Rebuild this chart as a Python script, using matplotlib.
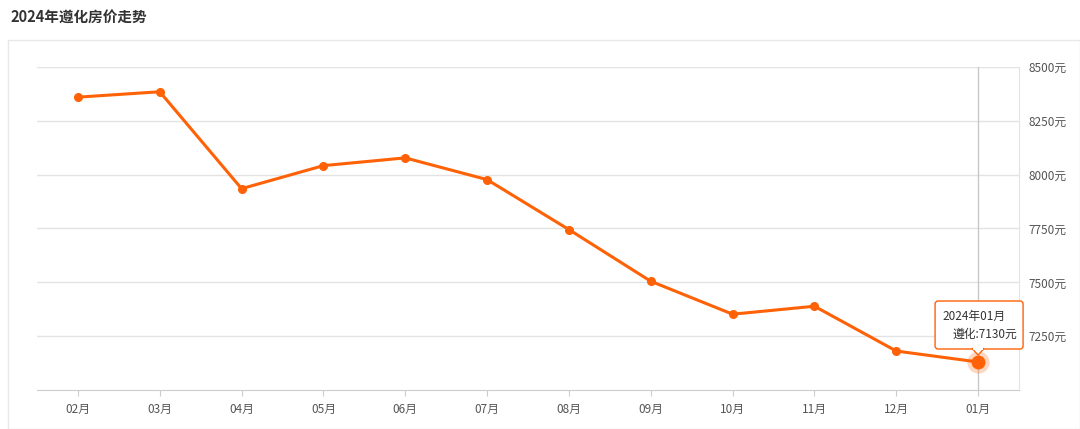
import matplotlib
matplotlib.use("Agg")
import matplotlib.pyplot as plt
from matplotlib.patches import Rectangle, Polygon, FancyBboxPatch
from matplotlib.transforms import IdentityTransform

plt.rcParams['font.family'] = ['Noto Sans CJK SC', 'DejaVu Sans']

# data
months = ['02月', '03月', '04月', '05月', '06月', '07月', '08月', '09月', '10月', '11月', '12月', '01月']
prices = [8360, 8385, 7935, 8042, 8078, 7977, 7745, 7505, 7352, 7389, 7181, 7130]
y_ticks = [7250, 7500, 7750, 8000, 8250, 8500]
title = '2024年遵化房价走势'
tip_title = '2024年01月'
tip_text = '遵化:7130元'

line_color = '#ff6206'
grid_color = '#e3e3e3'
label_color = '#555555'

fig = plt.figure(figsize=(10.8, 4.29), dpi=100)

# outer frame around the chart
fig.patches.append(Rectangle((8 / 1080, 0), 1 - 8 / 1080, 1 - 40 / 429,
                             transform=fig.transFigure, fill=False,
                             edgecolor='#e8e8e8', linewidth=1))
fig.text(10 / 1080, 1 - 18 / 429, title, fontsize=10.5, fontweight='bold',
         color='#333333', va='center', ha='left')

ax = fig.add_axes([37 / 1080, 1 - 390 / 429, (1019 - 37) / 1080, (390 - 67) / 429])
x = list(range(len(months)))
ax.plot(x, prices, color=line_color, linewidth=2.2, marker='o', markersize=5.5,
        zorder=3, clip_on=False)

ax.set_xlim(-0.5, len(months) - 0.5)
ax.set_ylim(7000, 8500)
ax.set_xticks(x)
ax.set_xticklabels(months)
ax.set_yticks(y_ticks)
ax.set_yticklabels([f'{v}元' for v in y_ticks])
ax.yaxis.tick_right()
ax.tick_params(axis='y', length=0, pad=7, labelsize=8.5, labelcolor=label_color)
ax.tick_params(axis='x', length=4, color='#cccccc', pad=5, labelsize=8.5,
               labelcolor=label_color)
ax.grid(axis='y', color=grid_color, linewidth=1)
ax.set_axisbelow(True)
for s in ['top', 'left']:
    ax.spines[s].set_visible(False)
ax.spines['bottom'].set_color('#cccccc')
ax.spines['right'].set_color('#e3e3e3')

# axis pointer for the highlighted point
ax.axvline(x[-1], color='#c8c8c8', linewidth=1, zorder=1)
ax.plot(x[-1], prices[-1], 'o', color=line_color, markersize=16, alpha=0.25,
        markeredgewidth=0, zorder=4)
ax.plot(x[-1], prices[-1], 'o', color=line_color, markersize=9, zorder=5)

# tooltip
px, py = ax.transData.transform((x[-1], prices[-1]))
idt = IdentityTransform()
box = FancyBboxPatch((px - 41, py + 15), 84, 44, boxstyle='round,pad=2,rounding_size=3',
                     transform=idt, facecolor='white', edgecolor=line_color,
                     linewidth=1, zorder=6)
fig.patches.append(box)
tri = Polygon([(px - 6, py + 13.5), (px + 6, py + 13.5), (px, py + 7)], closed=True,
              transform=idt, facecolor='white', edgecolor=line_color, linewidth=1,
              zorder=7)
fig.patches.append(tri)
fig.patches.append(Rectangle((px - 5, py + 12), 10, 3, transform=idt,
                             facecolor='white', edgecolor='none', zorder=8))
fig.text(px - 36, py + 46, tip_title, transform=idt, fontsize=8.5,
         color='#333333', ha='left', va='center', zorder=9)
fig.text(px + 39, py + 28, tip_text, transform=idt, fontsize=8.5,
         color='#333333', ha='right', va='center', zorder=9)

fig.savefig('out.png', dpi=100)
